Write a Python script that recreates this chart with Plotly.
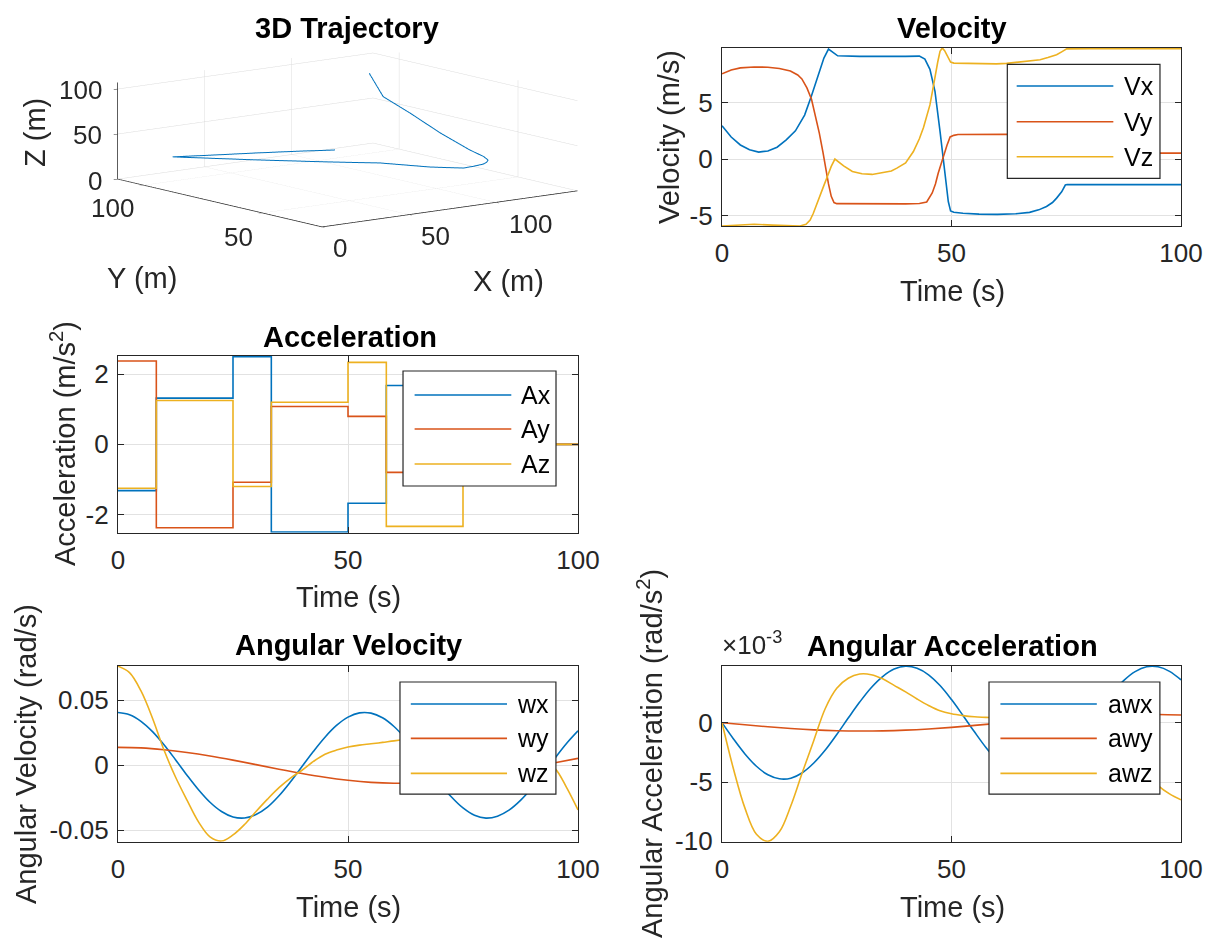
import plotly.graph_objects as go

FONT = "Liberation Sans, Arial, Helvetica, sans-serif"
C1, C2, C3 = "#0072BD", "#D95319", "#EDB120"
AXC = "#262626"
GRID = "#e2e2e2"

# ---------------- 3D trajectory (m) ----------------
traj_x = [107.6, 104.3, 106.8, 110.5, 118.5, 124.5, 127.6, 126.5, 123.9, 118.5, 113.4, 103.0, 91.3, 74.8, 51.7, 26.2, 44.0, 62.4, 80.0, 95.0]
traj_y = [83.8, 75.5, 66.1, 56.0, 49.4, 48.0, 48.4, 48.2, 47.7, 47.8, 48.4, 54.8, 67.3, 76.4, 90.3, 107.0, 102.5, 98.1, 93.5, 89.0]
traj_z = [105.0, 85.0, 72.0, 55.0, 38.0, 30.0, 25.0, 23.0, 22.0, 21.0, 20.0, 20.0, 20.0, 20.0, 20.0, 20.0, 20.0, 20.0, 20.0, 20.0]
x3_ticks = [0, 50, 100]
y3_ticks = [50, 100]
z3_ticks = [0, 50, 100]

# ---------------- Velocity (m/s) ----------------
t_vx = [0, 2, 4, 6, 8, 10, 12, 14, 16, 18, 19.5, 21, 22.2, 23.2, 24.2, 25.2, 30, 35, 40, 43, 44.2, 45.3, 46.4, 47.5,
        48.6, 49.3, 49.8, 50.5, 52.5, 56, 60, 64, 67, 69, 70.7, 72, 72.9, 74, 74.8, 75.2, 80, 90, 100]
vx = [2.95, 1.95, 1.25, 0.82, 0.62, 0.72, 1.05, 1.7, 2.5, 3.9, 5.6, 7.5, 8.95, 9.75, 9.45, 9.15, 9.1, 9.08, 9.1, 9.12,
      8.85, 7.95, 6.0, 2.45, -1.1, -3.76, -4.6, -4.72, -4.8, -4.88, -4.9, -4.85, -4.72, -4.5, -4.2, -3.85, -3.46, -2.9,
      -2.3, -2.26, -2.26, -2.26, -2.26]
t_vy = [0, 2, 4, 7, 10, 12.5, 14.9, 16.5, 17.4, 18.5, 19.5, 20.4, 21.2, 22, 22.5, 23.2, 23.8, 24.4, 25, 30, 35, 40, 43,
        44.6, 45.8, 46.5, 47.1, 47.8, 48.4, 49, 49.7, 50.5, 51.4, 55, 60, 62, 65, 68, 70.7, 72.9, 74.8, 80, 90, 100]
vy = [7.55, 7.9, 8.08, 8.16, 8.14, 8.02, 7.8, 7.45, 7.1, 6.3, 5.3, 3.8, 2.3, 0.6, -0.65, -2.2, -3.3, -3.85, -3.95, -3.97,
      -3.97, -3.97, -3.93, -3.8, -3.0, -2.2, -1.25, -0.3, 0.5, 1.2, 1.96, 2.1, 2.17, 2.2, 2.22, 2.2, 2.05, 1.8, 1.5, 1.1,
      0.55, 0.53, 0.53, 0.53]
t_vz = [0, 3, 7, 11, 15, 17, 18.3, 19.2, 19.9, 21, 22.1, 23, 23.8, 24.6, 25.3, 26.5, 28.4, 30.5, 32.7, 34.4, 36.9, 38.1,
        40, 41.7, 43, 43.9, 44.7, 45.3, 45.9, 46.4, 47, 47.5, 48.0, 48.5, 49.0, 49.8, 50.5, 52.6, 56, 59.8, 62, 64.9, 67,
        69.3, 71, 72.9, 74, 75.1, 80, 90, 100]
vz = [-5.93, -5.85, -5.77, -5.85, -5.92, -5.93, -5.77, -5.4, -4.8, -3.7, -2.44, -1.5, -0.65, 0.0, -0.25, -0.6, -1.1, -1.3,
      -1.36, -1.26, -1.05, -0.8, -0.35, 0.67, 1.8, 2.8, 3.9, 4.8, 6.1, 7.33, 8.6, 9.55, 9.84, 9.6, 9.25, 8.6, 8.5, 8.48,
      8.45, 8.43, 8.48, 8.6, 8.7, 8.8, 9.0, 9.25, 9.5, 9.76, 9.78, 9.78, 9.78]

# ---------------- Acceleration (m/s^2), piecewise constant ----------------
t_acc = [0, 8.33, 25, 33.33, 50, 58.33, 75, 100]
ax_acc = [-1.32, 1.32, 2.5, -2.5, -1.68, 1.68, 0, 0]
ay_acc = [2.38, -2.38, -1.08, 1.08, 0.80, -0.80, 0, 0]
az_acc = [-1.25, 1.25, -1.2, 1.2, 2.34, -2.34, 0, 0]

# ---------------- Angular velocity (rad/s) ----------------
t_w25 = [i * 2.5 for i in range(41)]
t_w5 = [i * 5 for i in range(21)]
wx = [0.0406, 0.0389, 0.0338, 0.0259, 0.0158, 0.0043, -0.0076, -0.0188, -0.0284, -0.0355, -0.0397, -0.0405, -0.0378,
      -0.0321, -0.0234, -0.0127, -0.0009, 0.0108, 0.0216, 0.0306, 0.0370, 0.0403, 0.0401, 0.0365, 0.0298, 0.0205,
      0.0094, -0.0023, -0.0139, -0.0244, -0.0328, -0.0384, -0.0406, -0.0391, -0.0345, -0.0270, -0.0173, -0.0061,
      0.0056, 0.0168, 0.0265]
wy = [0.0138, 0.0134, 0.0120, 0.0099, 0.0072, 0.0040, 0.0005, -0.0030, -0.0063, -0.0092, -0.0115, -0.0131, -0.0138,
      -0.0136, -0.0125, -0.0107, -0.0081, -0.0050, -0.0016, 0.0019, 0.0053]
wz = [0.0761, 0.0712, 0.0571, 0.0362, 0.0117, -0.0090, -0.0268, -0.0435, -0.0550, -0.0582, -0.0535, -0.0455, -0.0355,
      -0.0260, -0.0172, -0.0098, -0.0038, 0.0030, 0.0085, 0.0117, 0.0140, 0.0155, 0.0165, 0.0176, 0.0188, 0.0198,
      0.0205, 0.0208, 0.0207, 0.0202, 0.0193, 0.0178, 0.0158, 0.0132, 0.0108, 0.0083, 0.0055, 0.0020, -0.0025,
      -0.0170, -0.0343]

# ---------------- Angular acceleration (rad/s^2) ----------------
awx = [0.0, -1.37e-3, -2.63e-3, -3.67e-3, -4.39e-3, -4.73e-3, -4.68e-3, -4.22e-3, -3.40e-3, -2.31e-3, -1.00e-3,
       0.39e-3, 1.74e-3, 2.95e-3, 3.89e-3, 4.52e-3, 4.76e-3, 4.59e-3, 4.04e-3, 3.13e-3, 1.95e-3, 0.61e-3, -0.77e-3,
       -2.09e-3, -3.23e-3, -4.11e-3, -4.63e-3, -4.75e-3, -4.47e-3, -3.81e-3, -2.81e-3, -1.53e-3, -0.16e-3, 1.21e-3,
       2.50e-3, 3.55e-3, 4.31e-3, 4.71e-3, 4.71e-3, 4.33e-3, 3.61e-3]
awy = [0.0, -1.78e-4, -3.45e-4, -4.89e-4, -6.02e-4, -6.75e-4, -7.04e-4, -6.88e-4, -6.28e-4, -5.26e-4, -3.91e-4,
       -2.28e-4, -0.54e-4, 1.25e-4, 2.97e-4, 4.48e-4, 5.69e-4, 6.57e-4, 7.00e-4, 6.98e-4, 6.50e-4]
t_awz = [0, 2.5, 5, 7.5, 10, 12.5, 15, 17.5, 20, 22.5, 25, 27.5, 30, 32.5, 35, 37.5, 40, 42.5, 45, 47.5, 50, 52.5, 55,
         57.5, 60, 65, 70, 75, 80, 85, 90, 95, 97.5, 100]
awz = [0.0, -3.9e-3, -7.2e-3, -9.4e-3, -10.0e-3, -9.2e-3, -7.0e-3, -4.2e-3, -1.5e-3, 1.2e-3, 2.9e-3, 3.75e-3, 4.1e-3,
       4.05e-3, 3.7e-3, 3.15e-3, 2.6e-3, 2.0e-3, 1.45e-3, 1.0e-3, 0.75e-3, 0.6e-3, 0.5e-3, 0.45e-3, 0.4e-3, 0.35e-3,
       0.1e-3, -0.3e-3, -1.0e-3, -2.0e-3, -3.4e-3, -5.3e-3, -6.0e-3, -6.5e-3]

W, H = 1209, 951
fig = go.Figure()

fig.add_trace(go.Scatter3d(x=traj_x, y=traj_y, z=traj_z, mode="lines", line=dict(color=C1, width=2),
                           showlegend=False, hoverinfo="skip", scene="scene"))

def add2d(t, y, color, xa, ya, shape="linear"):
    fig.add_trace(go.Scatter(x=t, y=y, mode="lines", line=dict(color=color, width=1.6, shape=shape),
                             xaxis=xa, yaxis=ya, showlegend=False, hoverinfo="skip"))

add2d(t_vx, vx, C1, "x", "y")
add2d(t_vy, vy, C2, "x", "y")
add2d(t_vz, vz, C3, "x", "y")
add2d(t_acc, ax_acc, C1, "x2", "y2", "hv")
add2d(t_acc, ay_acc, C2, "x2", "y2", "hv")
add2d(t_acc, az_acc, C3, "x2", "y2", "hv")
add2d(t_w25, wx, C1, "x3", "y3", "spline")
add2d(t_w5, wy, C2, "x3", "y3", "spline")
add2d(t_w25, wz, C3, "x3", "y3", "spline")
add2d(t_w25, awx, C1, "x4", "y4", "spline")
add2d(t_w5, awy, C2, "x4", "y4", "spline")
add2d(t_awz, awz, C3, "x4", "y4", "spline")

def px2x(p):
    return p / W

def py2y(p):
    return 1 - p / H

tickfont = dict(family=FONT, size=26, color=AXC)

def xa_style(dom):
    return dict(domain=dom, range=[0, 100], tickvals=[0, 50, 100], showgrid=True, gridcolor=GRID, gridwidth=1,
                zeroline=False, showline=True, linecolor=AXC, linewidth=1.2, mirror="ticks", ticks="inside",
                ticklen=6, tickcolor=AXC, tickwidth=1.2, tickfont=tickfont, ticklabelstandoff=4, automargin=False)

def ya_style(dom, rng, tv, tt):
    return dict(domain=dom, range=rng, tickvals=tv, ticktext=tt, showgrid=True, gridcolor=GRID, gridwidth=1,
                zeroline=False, showline=True, linecolor=AXC, linewidth=1.2, mirror="ticks", ticks="inside",
                ticklen=6, tickcolor=AXC, tickwidth=1.2, tickfont=tickfont, ticklabelstandoff=3, automargin=False)

xR = [px2x(722), px2x(1181)]
xL = [px2x(118), px2x(578)]
yTop = [py2y(226), py2y(48)]
yMid = [py2y(532.7), py2y(355.7)]
yBot = [py2y(841.7), py2y(666)]

ax3 = dict(showbackground=False, gridcolor="#dcdcdc", gridwidth=1, zeroline=False, showline=True, linecolor=AXC,
           linewidth=1.5, ticks="outside", ticklen=5, tickcolor=AXC, showticklabels=False, showspikes=False,
           title=dict(text=""))

# camera: orthographic, looking from (-x, -y, +z) direction
SC = 2.31
cam_dir = (-0.6033, -0.7764, 0.1817)
cam_center = (-0.1188 * SC, 0.0615 * SC, -0.1318 * SC)
cam_dist = 2.0
cam_eye = tuple(c + d * cam_dist for c, d in zip(cam_center, cam_dir))

fig.update_layout(
    template="none",
    width=W, height=H, margin=dict(l=0, r=0, t=0, b=0, pad=0, autoexpand=False),
    paper_bgcolor="white", plot_bgcolor="white",
    font=dict(family=FONT, color=AXC), showlegend=False, hovermode=False,
    xaxis=dict(xa_style(xR), anchor="y"),
    yaxis=dict(ya_style(yTop, [-5.93, 9.84], [-5, 0, 5], ["-5", "0", "5"]), anchor="x"),
    xaxis2=dict(xa_style(xL), anchor="y2"),
    yaxis2=dict(ya_style(yMid, [-2.52, 2.53], [-2, 0, 2], ["-2", "0", "2"]), anchor="x2"),
    xaxis3=dict(xa_style(xL), anchor="y3"),
    yaxis3=dict(ya_style(yBot, [-0.0587, 0.0763], [-0.05, 0, 0.05], ["-0.05", "0", "0.05"]), anchor="x3"),
    xaxis4=dict(xa_style(xR), anchor="y4"),
    yaxis4=dict(ya_style(yBot, [-0.01003, 0.00478], [-0.01, -0.005, 0], ["-10", "-5", "0"]), anchor="x4"),
    scene=dict(
        domain=dict(x=[0, px2x(610)], y=[py2y(320), py2y(40)]),
        xaxis=dict(ax3, range=[0, 147], tickvals=x3_ticks),
        yaxis=dict(ax3, range=[25, 111], tickvals=y3_ticks),
        zaxis=dict(ax3, range=[0, 107.3], tickvals=z3_ticks),
        aspectmode="manual", aspectratio=dict(x=1 * SC, y=1.03 * SC, z=0.304 * SC),
        camera=dict(eye=dict(x=cam_eye[0], y=cam_eye[1], z=cam_eye[2]),
                    center=dict(x=cam_center[0], y=cam_center[1], z=cam_center[2]),
                    up=dict(x=0, y=0, z=1), projection=dict(type="orthographic")),
        bgcolor="white",
    ),
)

ann = []
shapes = []

def text(x, y, s, size=29, bold=False, angle=0, xanchor="center", yanchor="middle", color=AXC, xref="paper", yref="paper"):
    ann.append(dict(x=x, y=y, xref=xref, yref=yref, text=("<b>%s</b>" % s) if bold else s, showarrow=False,
                    textangle=angle, xanchor=xanchor, yanchor=yanchor,
                    font=dict(family=FONT, size=size, color=color)))

text(px2x(347), py2y(28), "3D Trajectory", bold=True, color="black")
text(px2x(952), py2y(28), "Velocity", bold=True, color="black")
text(px2x(350), py2y(337), "Acceleration", bold=True, color="black")
text(px2x(348), py2y(645), "Angular Velocity", bold=True, color="black")
text(px2x(952), py2y(646), "Angular Acceleration", bold=True, color="black")

# 3D tick labels (screen-aligned, as in the reference)
for v, py in zip(z3_ticks, [181, 135, 90]):
    text(px2x(104), py2y(py), str(v), size=26, xanchor="right")
for v, (pxx, pyy) in zip(y3_ticks, [(238, 237), (112, 208)]):
    text(px2x(pxx), py2y(pyy), str(v), size=26)
for v, (pxx, pyy) in zip(x3_ticks, [(340, 248), (435, 236), (530, 224)]):
    text(px2x(pxx), py2y(pyy), str(v), size=26)

# 3D axis titles
text(px2x(509), py2y(281), "X (m)")
text(px2x(142), py2y(278), "Y (m)")
text(px2x(35), py2y(133), "Z (m)", angle=-90)

text(px2x(952), py2y(291), "Time (s)")
text(px2x(669), py2y(137), "Velocity (m/s)", angle=-90)
text(px2x(348), py2y(597), "Time (s)")
text(px2x(63), py2y(444), "Acceleration (m/s<sup>2</sup>)", angle=-90)
text(px2x(348), py2y(907), "Time (s)")
text(px2x(26), py2y(754), "Angular Velocity (rad/s)", angle=-90)
text(px2x(952), py2y(907), "Time (s)")
text(px2x(650), py2y(754), "Angular Acceleration (rad/s<sup>2</sup>)", angle=-90)
text(px2x(720), py2y(662), "\u00d710<sup>-3</sup>", size=26, xanchor="left", yanchor="bottom")

def legend(xa, ya, names, box_x, line_x, text_x, entry_y, box_y):
    xr, yr = xa + " domain", ya + " domain"
    shapes.append(dict(type="rect", xref=xr, yref=yr, x0=box_x[0], x1=box_x[1], y0=box_y[0], y1=box_y[1],
                       fillcolor="white", line=dict(color=AXC, width=1.2), layer="above"))
    for (nm, col), ey in zip(names, entry_y):
        shapes.append(dict(type="line", xref=xr, yref=yr, x0=line_x[0], x1=line_x[1], y0=ey, y1=ey,
                           line=dict(color=col, width=1.6), layer="above"))
        text(text_x, ey, nm, size=25, xanchor="left", color="black", xref=xr, yref=yr)

legend("x", "y", [("Vx", C1), ("Vy", C2), ("Vz", C3)], [0.6216, 0.9542], [0.642, 0.8526], 0.8708,
       [0.7865, 0.586, 0.389], [0.268, 0.9084])
legend("x2", "y2", [("Ax", C1), ("Ay", C2), ("Az", C3)], [0.6196, 0.9522], [0.6448, 0.855], 0.8707,
       [0.778, 0.586, 0.388], [0.2638, 0.9136])
legend("x3", "y3", [("wx", C1), ("wy", C2), ("wz", C3)], [0.613, 0.952], [0.6365, 0.8457], 0.863,
       [0.784, 0.588, 0.389], [0.271, 0.909])
legend("x4", "y4", [("awx", C1), ("awy", C2), ("awz", C3)], [0.5817, 0.954], [0.6066, 0.8166], 0.8364,
       [0.784, 0.588, 0.389], [0.271, 0.909])

fig.update_layout(annotations=ann, shapes=shapes)
fig.write_html("out.html")
